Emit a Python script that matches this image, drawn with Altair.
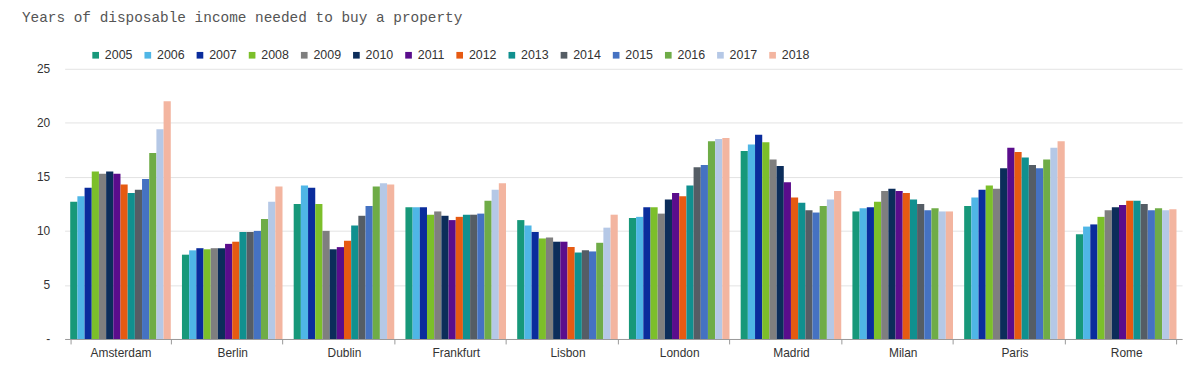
import altair as alt
import pandas as pd

cities = ["Amsterdam", "Berlin", "Dublin", "Frankfurt", "Lisbon", "London",
          "Madrid", "Milan", "Paris", "Rome"]
years = [str(y) for y in range(2005, 2019)]

amsterdam = [12.7, 13.2, 14.0, 15.5, 15.3, 15.5, 15.3, 14.3, 13.5, 13.8, 14.8, 17.2, 19.4, 22.0]
berlin = [7.8, 8.2, 8.4, 8.3, 8.4, 8.4, 8.8, 9.0, 9.9, 9.9, 10.0, 11.1, 12.7, 14.1]
dublin = [12.5, 14.2, 14.0, 12.5, 10.0, 8.3, 8.5, 9.1, 10.5, 11.4, 12.3, 14.1, 14.4, 14.3]
frankfurt = [12.2, 12.2, 12.2, 11.5, 11.8, 11.4, 11.0, 11.3, 11.5, 11.5, 11.6, 12.8, 13.8, 14.4]
lisbon = [11.0, 10.5, 9.9, 9.3, 9.4, 9.0, 9.0, 8.5, 8.0, 8.2, 8.1, 8.9, 10.3, 11.5]
london = [11.2, 11.3, 12.2, 12.2, 11.6, 12.9, 13.5, 13.2, 14.2, 15.9, 16.1, 18.3, 18.5, 18.6]
madrid = [17.4, 18.0, 18.9, 18.2, 16.6, 16.0, 14.5, 13.1, 12.6, 11.9, 11.7, 12.3, 12.9, 13.7]
milan = [11.8, 12.1, 12.2, 12.7, 13.7, 13.9, 13.7, 13.5, 12.9, 12.5, 11.9, 12.1, 11.8, 11.8]
paris = [12.3, 13.1, 13.8, 14.2, 13.9, 15.8, 17.7, 17.3, 16.8, 16.1, 15.8, 16.6, 17.7, 18.3]
rome = [9.7, 10.4, 10.6, 11.3, 11.9, 12.2, 12.4, 12.8, 12.8, 12.5, 11.9, 12.1, 11.9, 12.0]

series = [amsterdam, berlin, dublin, frankfurt, lisbon, london, madrid, milan, paris, rome]

colors = ["#17987a", "#4fb6e6", "#0a2c9c", "#7cbf2a", "#7f7f7f", "#0c2d5a", "#5a0d8c",
          "#e65a12", "#10908f", "#555d65", "#4572c2", "#6fac47", "#b5c8e6", "#f3b5a0"]

rows = []
for c, vals in zip(cities, series):
    for y, v in zip(years, vals):
        rows.append({"city": c, "year": y, "value": v})
df = pd.DataFrame(rows)

chart = alt.Chart(df).mark_bar().encode(
    x=alt.X("city:N", sort=cities,
            scale=alt.Scale(paddingInner=0.1, paddingOuter=0.05),
            axis=alt.Axis(title=None, labelAngle=0, labelFont="Liberation Sans",
                          labelFontSize=12, labelColor="#333", labelPadding=4,
                          domainColor="#999", tickColor="#999", tickSize=5,
                          tickBand="extent", grid=False)),
    xOffset=alt.XOffset("year:N", sort=years, scale=alt.Scale(paddingInner=0, paddingOuter=0)),
    y=alt.Y("value:Q", scale=alt.Scale(domain=[0, 25]),
            axis=alt.Axis(title=None, values=[0, 5, 10, 15, 20, 25],
                          labelExpr="datum.value == 0 ? '-' : datum.label",
                          labelFont="Liberation Sans", labelFontSize=12, labelColor="#333",
                          labelPadding=15, domain=False, ticks=False,
                          gridColor="#e3e3e3")),
    color=alt.Color("year:N", sort=years, scale=alt.Scale(domain=years, range=colors),
                    legend=alt.Legend(title=None, orient="none", direction="horizontal",
                                      legendX=25, legendY=-20, symbolType="square",
                                      symbolSize=45, symbolStrokeWidth=0,
                                      labelFont="Liberation Sans", labelFontSize=12.5,
                                      labelColor="#333", labelOffset=3,
                                      columnPadding=8.5)),
).properties(
    width=1125, height=272,
    autosize="none",
    padding={"left": 57, "top": 60, "right": 10, "bottom": 26},
    title=alt.Title("Years of disposable income needed to buy a property",
                    anchor="start", frame="group", dx=-43, offset=24,
                    font="Liberation Mono", fontSize=14.5, fontWeight="normal",
                    color="#555"),
).configure_view(stroke=None)

chart.save("out.html", embed_options={"renderer": "svg", "actions": False})
